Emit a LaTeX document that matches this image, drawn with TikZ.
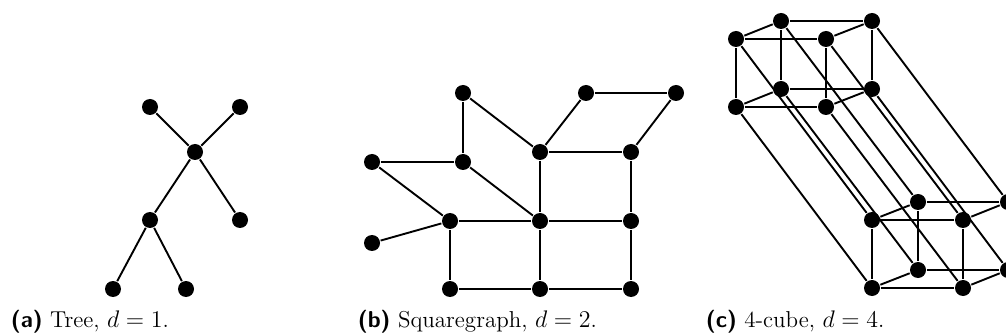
\documentclass[tikz,border=0pt]{standalone}
\usepackage{xcolor}
\usepackage{tikz}
\usepackage{amsmath}
\tikzset{
  vert/.style={circle,fill=black,inner sep=0pt,minimum size=8pt},
  capt/.style={anchor=base west,inner sep=0pt,font=\fontsize{11.5}{14}\selectfont},
}
\newcommand{\sublabel}[1]{\textsf{\textbf{(#1)}}}

\begin{document}
\begin{tikzpicture}[x=0.5pt,y=-0.5pt,line width=0.95pt]
  \useasboundingbox (0,0) rectangle (1006,336);
  % tree
  \foreach \name/\px/\py in {ta/150/107,tb/240/107,tc/195/152,td/150/220,te/240/220,tf/113/289,tg/186/289}
    \node[vert] (\name) at (\px,\py) {};
  \foreach \u/\v in {ta/tc,tb/tc,tc/td,tc/te,td/tf,td/tg}
    \draw (\u) -- (\v);
  % squaregraph
  \foreach \name/\px/\py in {sa/463/93,sb/586/93,sc/676/93,sd/540/152,se/631/152,sf/372/162,sg/463/162,
                             sh/450/221,si/540/221,sj/631/221,sk/372/243,sl/450/289,sm/540/289,sn/631/289}
    \node[vert] (\name) at (\px,\py) {};
  \foreach \u/\v in {sa/sg,sa/sd,sb/sc,sb/sd,sc/se,sd/se,sd/si,se/sj,sf/sg,sf/sh,sg/si,
                     sh/si,si/sj,sh/sk,sh/sl,si/sm,sj/sn,sl/sm,sm/sn}
    \draw (\u) -- (\v);
  % 4-cube
  \foreach \name/\px/\py in {ca/736/39,cb/781/21,cc/826/39,cd/872/21,ce/736/107,cf/781/89,cg/826/107,ch/872/89,
                             da/872/220,db/918/202,dc/963/220,dd/1008/202,de/872/288,df/918/270,dg/963/288,dh/1008/270}
    \node[vert] (\name) at (\px,\py) {};
  \foreach \p in {c,d}
    \foreach \u/\v in {a/b,a/c,b/d,c/d,a/e,b/f,c/g,d/h,e/f,e/g,f/h,g/h}
      \draw (\p\u) -- (\p\v);
  \foreach \u in {a,b,c,d,e,f,g,h}
    \draw (c\u) -- (d\u);
  % captions
  \node[capt] (capa) at (10,328) {\sublabel{a} Tree, $d=1$.};
  \node[capt] (capb) at (357,328) {\sublabel{b} Squaregraph, $d=2$.};
  \node[capt] (capc) at (705,328) {\sublabel{c} 4-cube, $d=4$.};
\end{tikzpicture}
\end{document}
